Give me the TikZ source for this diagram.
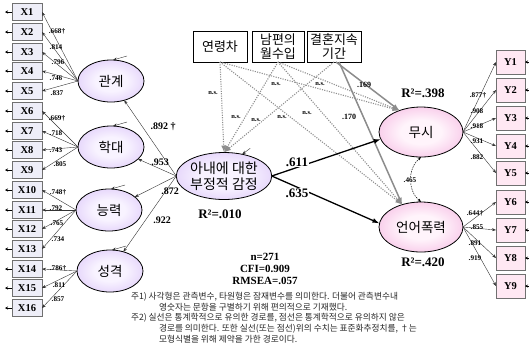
\documentclass[tikz,border=0pt]{standalone}
\usepackage{fontspec}
\setmainfont{Liberation Serif}
\newfontfamily\kr{Noto Sans CJK KR}
\usetikzlibrary{arrows.meta,shapes.geometric,calc}
\definecolor{lavin}{HTML}{F8F3FF}
\definecolor{lavout}{HTML}{C8A6F4}
\definecolor{pinkin}{HTML}{FFF4FB}
\definecolor{pinkout}{HTML}{EE8CCF}
\definecolor{xfill}{HTML}{EEEEF8}
\definecolor{yfill}{HTML}{FFE8F3}
\definecolor{boxline}{HTML}{707070}
\definecolor{nsgray}{HTML}{8E8E8E}
\definecolor{sggray}{HTML}{8C8C8C}
\pgfdeclareradialshading{lavball}{\pgfpoint{0bp}{0bp}}{color(0bp)=(lavin); color(12bp)=(lavin); color(50bp)=(lavout)}
\pgfdeclareradialshading{pinkball}{\pgfpoint{0bp}{0bp}}{color(0bp)=(pinkin); color(12bp)=(pinkin); color(50bp)=(pinkout)}
\begin{document}
\begin{tikzpicture}[x=1pt,y=-1pt,
  every node/.style={inner sep=0pt, outer sep=0pt},
  kfont/.style={font=\kr\fontsize{13.5}{15}\selectfont},
  lat/.style={ellipse, draw=black, line width=0.8pt, shading=lavball, minimum width=66pt, minimum height=42pt, kfont},
  endo/.style={ellipse, draw=black, line width=0.8pt, shading=pinkball, minimum width=84pt, minimum height=50pt, kfont},
  xbox/.style={draw=boxline, line width=0.6pt, fill=xfill, minimum width=30pt, minimum height=17pt, font=\bfseries\fontsize{10.5}{10}\selectfont},
  ybox/.style={draw=boxline, line width=0.6pt, fill=yfill, minimum width=29pt, minimum height=24pt, font=\bfseries\fontsize{10.5}{10}\selectfont},
  cbox/.style={draw=black, line width=0.8pt, fill=white, align=center, inner sep=2pt, font=\kr\fontsize{13}{14.5}\selectfont},
  ld/.style={draw=black!80, line width=0.4pt, -{Stealth[length=4pt,width=3pt]}},
  err/.style={draw=black, line width=0.5pt, -{Stealth[length=3pt,width=3pt]}},
  sml/.style={font=\bfseries\fontsize{7.2}{8}\selectfont},
  mid/.style={font=\bfseries\fontsize{10}{11}\selectfont},
  big/.style={font=\bfseries\fontsize{13}{14}\selectfont},
  stat/.style={font=\bfseries\fontsize{11}{12}\selectfont},
  ns/.style={font=\bfseries\fontsize{6.5}{7}\selectfont, fill=white, inner sep=0.6pt},
  nsline/.style={draw=nsgray, line width=1.1pt, dash pattern=on 1.1pt off 1.3pt, -{Latex[length=7pt,width=5pt]}},
  sgline/.style={draw=sggray, line width=1.5pt, -{Latex[length=7pt,width=5pt]}},
  pathline/.style={draw=black, line width=1.3pt, -{Latex[length=7pt,width=5pt]}},
  corr/.style={draw=black, line width=0.5pt, dash pattern=on 1.5pt off 1pt, {Stealth[length=3.5pt,width=3pt]}-{Stealth[length=3.5pt,width=3pt]}},
  note/.style={anchor=west, font=\kr\fontsize{8.7}{9}\selectfont, text=black!85}
]
\useasboundingbox (0,0) rectangle (529,349);

% observed indicators, left column
\foreach \i/\y in {1/12,2/32,3/52,4/71,5/91,6/111,7/131,8/150,9/170,10/190,11/210,12/229,13/249,14/269,15/288,16/308}
  \node[xbox] (x\i) at (27,\y) {X\i};
\foreach \i in {1,...,16}
  \draw[err] (x\i.west) -- ++(-7,0);

% observed indicators, right column
\foreach \i/\y in {1/62,2/90,3/118,4/146,5/173,6/202,7/230,8/258,9/286}
  \node[ybox] (y\i) at (510.5,\y) {Y\i};
\foreach \i in {1,...,9}
  \draw[err] ($(y\i.east)+(4,0)$) -- (y\i.east);

% first-order factors
\node[lat] (rel) at (111,81) {관계};
\node[lat] (abu) at (111,147) {학대};
\node[lat] (cap) at (109,210) {능력};
\node[lat] (per) at (110,271) {성격};

% second-order factor and outcomes
\node[lat, minimum width=87pt, minimum height=47pt, align=center, font=\kr\fontsize{14}{15.5}\selectfont] (neg) at (224,176) {아내에 대한\\부정적 감정};
\node[endo] (mu) at (421,132) {무시};
\node[endo] (vb) at (421,227) {언어폭력};

% control variables
\node[cbox, minimum width=54pt, minimum height=31pt] (age) at (220,46.5) {연령차};
\node[cbox, minimum width=52pt, minimum height=31pt] (inc) at (278,46.5) {남편의\\월수입};
\node[cbox, minimum width=54pt, minimum height=31pt] (dur) at (334,46.5) {결혼지속\\기간};

% measurement paths
\foreach \i in {1,...,5} \draw[ld] (rel.west) -- (x\i.east);
\foreach \i in {6,...,9} \draw[ld] (abu.west) -- (x\i.east);
\foreach \i in {10,...,13} \draw[ld] (cap.west) -- (x\i.east);
\foreach \i in {14,...,16} \draw[ld] (per.west) -- (x\i.east);
\foreach \i in {1,...,5} \draw[ld] (mu.east) -- (y\i.west);
\foreach \i in {6,...,9} \draw[ld] (vb.east) -- (y\i.west);

% second-order loadings
\foreach \f in {rel,abu,cap,per} \draw[ld] (neg.west) -- (\f);

% disturbances
\foreach \f in {rel,abu,cap,per}
  \draw[ld] ($(\f.north)+(16,-4)$) -- ($(\f.north)+(2,0)$);
\draw[ld] ($(neg.50)+(8,-6)$) -- (neg.50);

% non-significant paths from controls
\draw[nsline] (age.south) -- (neg.north);
\draw[nsline] (inc.south) -- (neg.north);
\draw[nsline] (dur.south) -- (neg.north);
\draw[nsline] (age.south) -- (mu.135);
\draw[nsline] (inc.south) -- (mu.135);
\draw[nsline] (age.south) -- (vb.130);
\draw[nsline] (inc.south) -- (vb.130);

% significant paths from marriage duration
\draw[sgline] ($(dur.south)+(2,0)$) -- (mu.135);
\draw[sgline] ($(dur.south)+(5,0)$) -- (vb.130);

% structural paths
\draw[pathline] (neg.east) -- (mu.190);
\draw[pathline] (neg.east) -- (vb.175);
\draw[corr] (mu.south) to[bend right=50] (vb.north);

% n.s. labels
\node[ns] (n1) at (213,93) {n.s.};
\node[ns] (n2) at (236,117) {n.s.};
\node[ns] (n3) at (256,120) {n.s.};
\node[ns] (n4) at (276,84) {n.s.};
\node[ns] (n5) at (320,84) {n.s.};
\node[ns] (n6) at (282,117) {n.s.};
\node[ns] (n7) at (307,113) {n.s.};
\node[sml, font=\bfseries\fontsize{8}{9}\selectfont] (c1) at (364,85) {.169};
\node[sml, font=\bfseries\fontsize{8}{9}\selectfont] (c2) at (349,117) {.170};

% loading values
\foreach \t/\x/\y [count=\k] in {.668†/57/31,.814/56/47,.796/58/62,.746/56/78,.837/57/93,.669†/57/118,.718/56/133,.743/56/150,.805/60/164,.748†/58/192,.792/56/208,.765/57/223,.734/58/239,.786†/58/268,.811/59/285,.857/58/299}
  \node[sml] (lx\k) at (\x,\y) {\t};
\foreach \t/\x/\y [count=\k] in {.877†/478/95,.908/477/111,.918/477/126,.931/477/141,.882/477/157,.644†/475/213,.855/477/227,.891/475/243,.919/475/258}
  \node[sml] (ly\k) at (\x,\y) {\t};
\node[mid] (s1) at (163,127) {.892 †};
\node[mid] (s2) at (160,162) {.953};
\node[mid] (s3) at (170,191) {.872};
\node[mid] (s4) at (162,220) {.922};
\node[big, fill=white, inner sep=1pt] (p1) at (297,162) {.611};
\node[big, fill=white, inner sep=1pt] (p2) at (297,193) {.635};
\node[sml, fill=white, inner sep=0.8pt] (r1) at (410,180) {.465};

% explained variance
\node[big] (rs0) at (220,214) {R²=.010};
\node[big] (rs1) at (423,93) {R²=.398};
\node[big] (rs2) at (423,262) {R²=.420};

% fit indices
\node[stat] (fn) at (265,257) {n=271};
\node[stat] (fc) at (265,269) {CFI=0.909};
\node[stat] (fr) at (265,281) {RMSEA=.057};

% notes
\node[note] (t1) at (131,297) {주1) 사각형은 관측변수, 타원형은 잠재변수를 의미한다. 더불어 관측변수내};
\node[note] (t2) at (159,307.5) {영숫자는 문항을 구별하기 위해 편의적으로 기재했다.};
\node[note] (t3) at (131,318) {주2) 실선은 통계학적으로 유의한 경로를, 점선은 통계학적으로 유의하지 않은};
\node[note] (t4) at (159,328.5) {경로를 의미한다. 또한 실선(또는 점선)위의 수치는 표준화추정치를, †는};
\node[note] (t5) at (159,339) {모형식별을 위해 제약을 가한 경로이다.};
\end{tikzpicture}
\end{document}
